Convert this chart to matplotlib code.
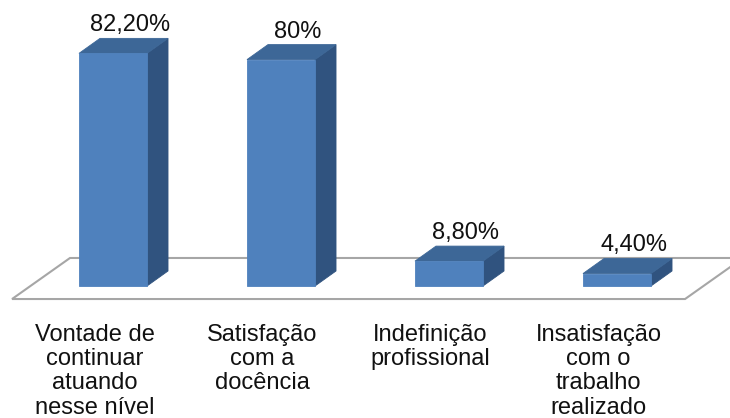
import numpy as np
import matplotlib.pyplot as plt
from matplotlib.patches import Polygon

# data
categories = ['Vontade de\ncontinuar\natuando\nnesse nível',
              'Satisfação\ncom a\ndocência',
              'Indefinição\nprofissional',
              'Insatisfação\ncom o\ntrabalho\nrealizado']
values = [82.2, 80.0, 8.8, 4.4]
value_labels = ['82,20%', '80%', '8,80%', '4,40%']

# pseudo-3d look
bar_w = 0.405
dep_x = 0.125
dep_y = 5.3
front_col = '#4F81BD'
top_col = '#3D6797'
side_col = '#30537F'


def createPlot():
    fig = plt.figure(figsize=(7.30, 4.18), dpi=100)
    ax = fig.add_axes([0, 0, 1, 1])
    ax.set_xlim(-0.6726, 3.6726)
    ax.set_ylim(-46.64, 101.06)
    ax.axis('off')
    return fig, ax


def drawFloor(ax):
    front_y = -4.6
    back_y = 9.9
    pts = [(-0.601, front_y), (3.405, front_y), (3.75, back_y), (-0.256, back_y)]
    floor = Polygon(pts, closed=True, facecolor='white', edgecolor='#A6A6A6',
                    linewidth=1.5, zorder=1)
    ax.add_patch(floor)


def drawBar(ax, x, h):
    x0 = x - bar_w / 2
    x1 = x + bar_w / 2
    front = [(x0, 0), (x1, 0), (x1, h), (x0, h)]
    top = [(x0, h), (x1, h), (x1 + dep_x, h + dep_y), (x0 + dep_x, h + dep_y)]
    side = [(x1, 0), (x1 + dep_x, dep_y), (x1 + dep_x, h + dep_y), (x1, h)]
    for pts, c in [(side, side_col), (top, top_col), (front, front_col)]:
        ax.add_patch(Polygon(pts, closed=True, facecolor=c, edgecolor=c,
                             linewidth=0.6, zorder=3))


def main():
    plt.rcParams['font.family'] = ['Liberation Sans', 'DejaVu Sans']
    fig, ax = createPlot()
    drawFloor(ax)

    xs = np.arange(len(values))
    for x, v, lab in zip(xs, values, value_labels):
        drawBar(ax, x, v)
        ax.text(x + 0.1, v + dep_y + 2.5, lab, ha='center', va='baseline',
                fontsize=17, color='#111111', zorder=4)

    for x, cat in zip(xs, categories):
        ax.text(x - 0.11, -13.3, cat, ha='center', va='top', fontsize=17,
                color='#111111', linespacing=1.14, zorder=4)

    fig.savefig('out.png', dpi=100)


if __name__ == "__main__":
    main()
